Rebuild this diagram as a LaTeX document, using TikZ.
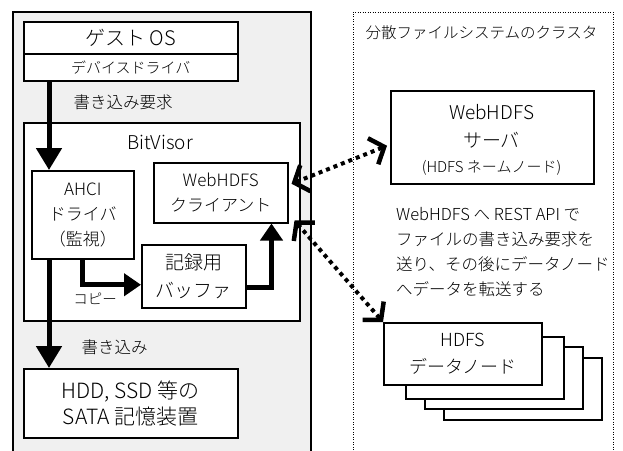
\documentclass[tikz,border=0pt]{standalone}
\usepackage{fontspec}
\IfFontExistsTF{Noto Sans CJK JP Light}
  {\setmainfont{Noto Sans CJK JP Light}}
  {\setmainfont{Noto Sans CJK JP}}
\usetikzlibrary{arrows.meta}
\definecolor{panelgray}{HTML}{F0F0F0}
\tikzset{
  panel/.style={draw, line width=1.5pt, fill=white, inner sep=0pt,
    align=center, anchor=north west},
  fatarrow/.style={line width=5pt, -{Triangle[length=22pt,width=25pt]}},
  midarrow/.style={line width=5pt, -{Triangle[length=17pt,width=22pt]}},
  barb/.tip={Straight Barb[length=12pt,width=28pt,line width=4.5pt]},
  dotarrow/.style={line width=4pt, dash pattern=on 4pt off 4pt, barb-barb},
  fa/.style={font=\fontsize{#1}{#1}\selectfont},
}
\begin{document}
\begin{tikzpicture}[x=1pt,y=-1pt]
\useasboundingbox (0,0) rectangle (623,450);
\clip (0,0) rectangle (623,450);

% host machine and cluster frames
\draw[line width=1.5pt, fill=panelgray] (13,470) -- (13,12) -- (311,12) -- (311,470);
\draw[line width=1pt, dash pattern=on 1pt off 1.5pt] (353,470) -- (353,12) -- (613,12) -- (613,470);
\node[anchor=west, fa=15.5] (clustertitle) at (362,33) {分散ファイルシステムのクラスタ};

% guest OS
\node[panel, minimum width=214pt, minimum height=32pt, font=\fontsize{20}{24}\selectfont] (guest) at (23,21) {ゲスト OS};
\node[panel, minimum width=214pt, minimum height=27pt, font=\fontsize{15}{18}\selectfont] (driver) at (23,53) {デバイスドライバ};

% BitVisor
\node[panel, minimum width=276pt, minimum height=198pt] (bitvisor) at (23,122) {};
\node[fa=19] (bvtitle) at (160,142) {BitVisor};
\node[panel, minimum width=102pt, minimum height=88pt, font=\fontsize{17}{25}\selectfont] (ahci) at (31,170) {AHCI\\ドライバ\\（監視）};
\node[panel, minimum width=134pt, minimum height=60pt, font=\fontsize{17}{25}\selectfont] (client) at (153,162) {WebHDFS\\クライアント};
\node[panel, minimum width=104pt, minimum height=63pt, font=\fontsize{19}{28}\selectfont] (buffer) at (141,244) {記録用\\バッファ};

% storage device
\node[panel, minimum width=214pt, minimum height=69pt, font=\fontsize{21}{26}\selectfont] (hdd) at (23,368) {HDD, SSD 等の\\SATA 記憶装置};

% WebHDFS server
\node[panel, minimum width=203pt, minimum height=93pt] (server) at (390,90) {};
\node[fa=19] (srvname) at (491.5,112) {WebHDFS};
\node[fa=19] (srvkind) at (491.5,140) {サーバ};
\node[fa=15] (srvrole) at (491.5,168) {(HDFS ネームノード)};

% description
\node[anchor=north west, align=left, inner sep=0pt, font=\fontsize{16.5}{25}\selectfont] (desc) at (396,207)
  {WebHDFS へ REST API で\\ファイルの書き込み要求を\\送り、その後にデータノード\\へデータを転送する};

% data nodes (stacked)
\node[panel, minimum width=158pt, minimum height=62pt] (dn3) at (443,357) {};
\node[panel, minimum width=158pt, minimum height=62pt] (dn2) at (424,346) {};
\node[panel, minimum width=158pt, minimum height=62pt] (dn1) at (405,336) {};
\node[panel, minimum width=158pt, minimum height=62pt, font=\fontsize{18}{27}\selectfont] (dn) at (383,322) {HDFS\\データノード};

% data flow inside the host
\draw[fatarrow] ([xshift=26pt]driver.south west) -- ([xshift=18pt]ahci.north west);
\node[anchor=west, fa=16.5] (reqlabel) at (70,102) {書き込み要求};
\draw[fatarrow] ([xshift=18pt]ahci.south west) -- ([xshift=26pt]hdd.north west);
\node[anchor=west, fa=16.5] (writelabel) at (78,347) {書き込み};
\draw[midarrow] ([xshift=51pt]ahci.south west) |- ([yshift=-8.5pt]buffer.west);
\node[fa=14.5] (copylabel) at (95,299) {コピー};
\draw[midarrow] ([yshift=-11.5pt]buffer.east) -| ([xshift=-17pt]client.south east);

% network traffic
\draw[dotarrow] ([xshift=3pt,yshift=9pt]client.east) -- ([xshift=-3pt,yshift=-8.5pt]server.west);
\draw[dotarrow] ([xshift=6pt,yshift=3pt]client.south east) -- (dn.north west);
\end{tikzpicture}
\end{document}
